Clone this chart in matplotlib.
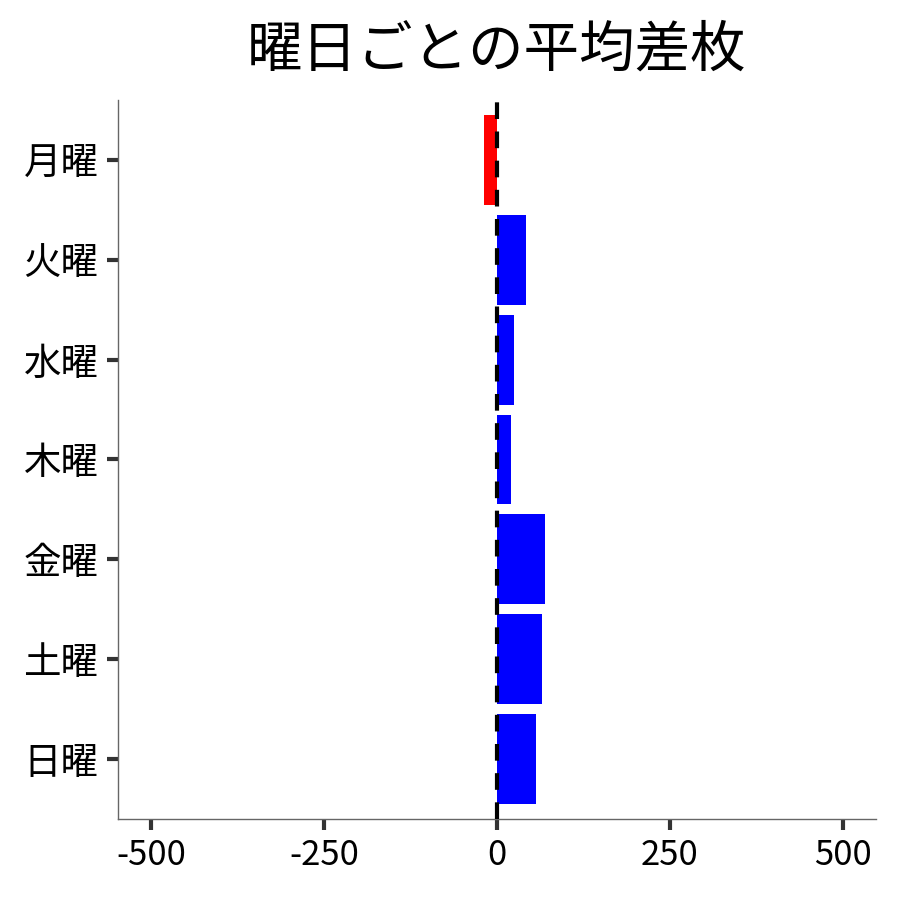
import matplotlib
matplotlib.use("Agg")
import matplotlib.pyplot as plt

plt.rcParams['font.family'] = ['Noto Sans CJK JP', 'DejaVu Sans']

days = ['月曜', '火曜', '水曜', '木曜', '金曜', '土曜', '日曜']
avg_diff = [-19, 42, 25, 20, 69, 65, 56]
xticks = [-500, -250, 0, 250, 500]

colors = ['red' if v < 0 else 'blue' for v in avg_diff]

fig, ax = plt.subplots(figsize=(9, 9), dpi=100)
ax.barh(range(len(days)), avg_diff, height=0.9, color=colors)
ax.axvline(0, color='black', linestyle='--', linewidth=3, dashes=(4, 3), zorder=3)

ax.set_yticks(range(len(days)))
ax.set_yticklabels(days)
ax.set_xticks(xticks)
ax.set_xticklabels([str(t) for t in xticks])
ax.set_xlim(-548, 548)
ax.set_ylim(6.6, -0.6)

for s in ['top', 'right']:
    ax.spines[s].set_visible(False)
for s in ['left', 'bottom']:
    ax.spines[s].set_color('#666666')
    ax.spines[s].set_linewidth(1)
ax.tick_params(axis='both', length=8, width=3, color='#333333', pad=6)
ax.tick_params(axis='y', labelsize=27)
ax.tick_params(axis='x', labelsize=25)

ax.set_title('曜日ごとの平均差枚', fontsize=40, pad=24)

plt.subplots_adjust(left=0.131, right=0.973, top=0.889, bottom=0.09)
plt.savefig('out.png', dpi=100)
